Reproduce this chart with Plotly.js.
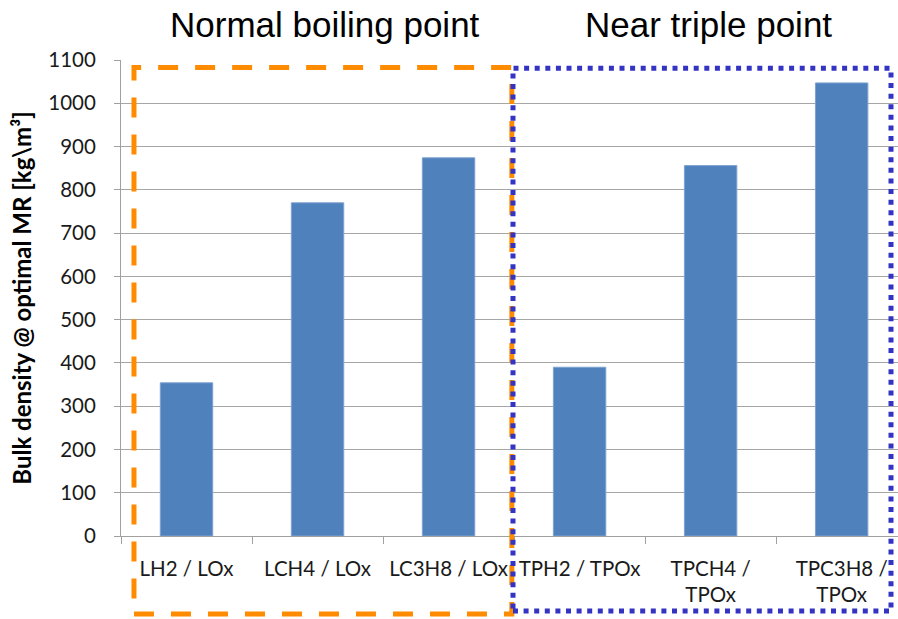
<!DOCTYPE html>
<html>
<head>
<meta charset="utf-8">
<script src="https://cdn.plot.ly/plotly-3.0.1.min.js"></script>
<style>html,body{margin:0;padding:0;background:#fff;}#chart{width:898px;height:619px;}</style>
</head>
<body>
<div id="chart"></div>
<script>
const categories = ["LH2 / LOx", "LCH4 / LOx", "LC3H8 / LOx", "TPH2 / TPOx", "TPCH4 /<br>TPOx", "TPC3H8 /<br>TPOx"];
const bulkDensity = [354, 770, 874, 390, 856, 1047];
const yTickValues = [0, 100, 200, 300, 400, 500, 600, 700, 800, 900, 1000, 1100];
const groupTitles = ["Normal boiling point", "Near triple point"];
const yTitle = "Bulk density @ optimal MR [kg\\m³]";

const tickFont = {family: "Lato, 'Open Sans', sans-serif", size: 20.5, color: "#1a1a1a"};

const trace = {
  type: "bar",
  x: categories,
  y: bulkDensity,
  marker: {color: "#4F81BD", line: {color: "#7FA2CF", width: 1}},
  hoverinfo: "x+y"
};

const layout = {
  width: 898,
  height: 619,
  margin: {l: 121, r: 0, t: 60, b: 83, pad: 0},
  paper_bgcolor: "#ffffff",
  plot_bgcolor: "#ffffff",
  showlegend: false,
  bargap: 0.6,
  xaxis: {
    type: "category",
    range: [-0.5, 5.43],
    tickson: "boundaries",
    ticks: "outside",
    ticklen: 7,
    tickcolor: "#a0a0a0",
    showline: true,
    linecolor: "#a0a0a0",
    linewidth: 1,
    showgrid: false,
    tickfont: tickFont,
    ticklabelstandoff: 14,
    fixedrange: true
  },
  yaxis: {
    range: [0, 1100],
    tickvals: yTickValues,
    ticktext: yTickValues.map(String),
    ticks: "outside",
    ticklen: 6,
    tickcolor: "#a0a0a0",
    showline: true,
    linecolor: "#a0a0a0",
    linewidth: 1,
    showgrid: true,
    gridcolor: "#a6a6a6",
    gridwidth: 1,
    zeroline: false,
    tickfont: tickFont,
    ticklabelstandoff: 14,
    title: {
      text: "<b>" + yTitle + "</b>",
      font: {family: "Lato, 'Open Sans', sans-serif", size: 24, color: "#000"},
      standoff: 9
    },
    automargin: false,
    fixedrange: true
  },
  annotations: [
    {text: groupTitles[0], xref: "paper", yref: "paper", x: 0.2625, y: 1.0756,
     xanchor: "center", yanchor: "middle", showarrow: false,
     font: {family: "'Liberation Sans', Arial, sans-serif", size: 35, color: "#000"}},
    {text: groupTitles[1], xref: "paper", yref: "paper", x: 0.7555, y: 1.0756,
     xanchor: "center", yanchor: "middle", showarrow: false,
     font: {family: "'Liberation Sans', Arial, sans-serif", size: 35, color: "#000"}}
  ],
  shapes: [
    {type: "rect", xref: "paper", yref: "paper", x0: 0.0167, x1: 0.503, y0: -0.164, y1: 0.984,
     line: {color: "#FF8C00", width: 5, dash: "20px,17px"}, layer: "above"},
    {type: "rect", xref: "paper", yref: "paper", x0: 0.5045, x1: 0.991, y0: -0.1576, y1: 0.9825,
     line: {color: "#3333C4", width: 5, dash: "5px,5.6px"}, layer: "above"}
  ]
};

Plotly.newPlot("chart", [trace], layout, {displayModeBar: false, staticPlot: true});
</script>
</body>
</html>
